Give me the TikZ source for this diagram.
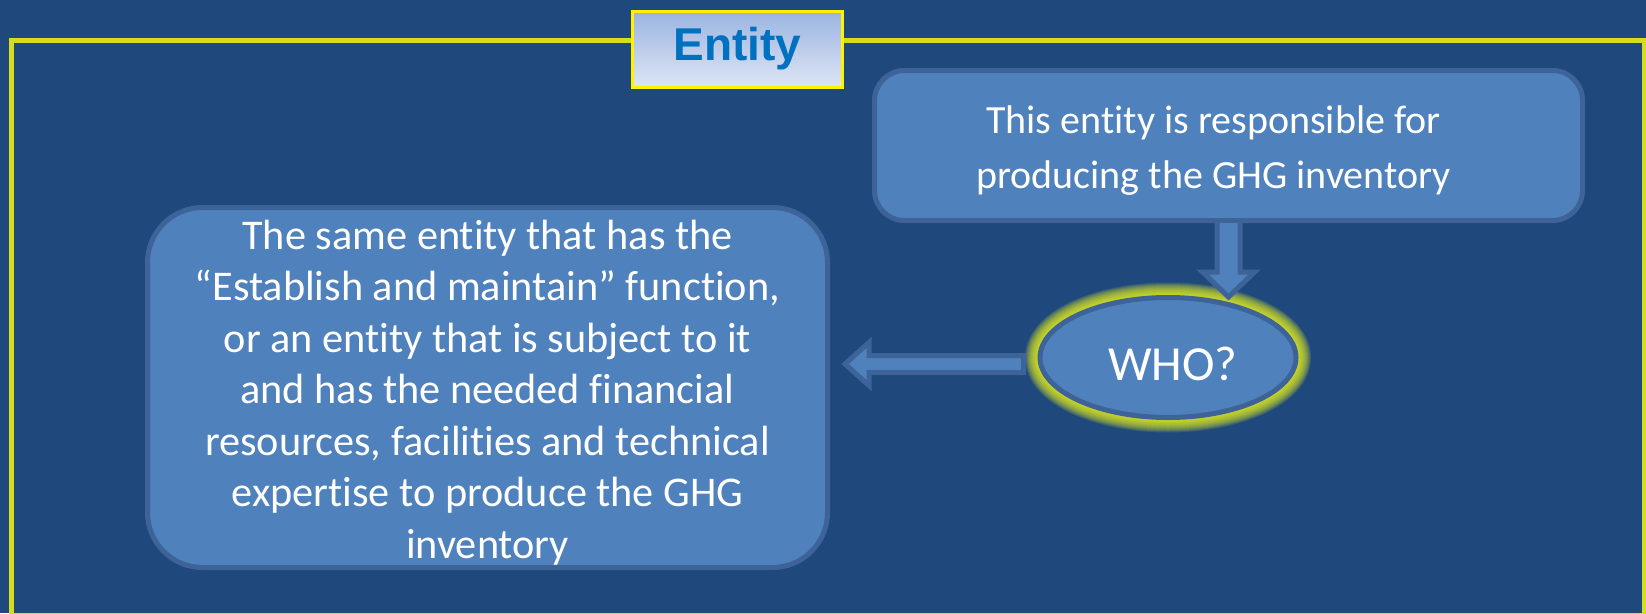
\documentclass[tikz,border=0pt]{standalone}
\usepackage{fontspec}
\setmainfont{Carlito}[Ligatures=NoCommon]
\newfontfamily\headfont{Liberation Sans}
\usepackage{xcolor}
\usetikzlibrary{calc,shapes.geometric}
\definecolor{slide}{HTML}{1F497D}
\definecolor{boxfill}{HTML}{4F81BD}
\definecolor{boxline}{HTML}{3E6398}
\definecolor{framey}{HTML}{D6DD1C}
\definecolor{glowy}{HTML}{E8F21A}
\definecolor{titletop}{HTML}{9BB4E0}
\definecolor{titlebot}{HTML}{DDE5F5}
\definecolor{titletext}{HTML}{0070C0}
\tikzset{
    every node/.style={font=\fontsize{40}{55}\selectfont, text=white},
    roundbox/.style={draw=boxline, fill=boxfill, line width=5pt, rounded corners=#1, inner sep=0pt},
    blockarrow/.style={draw=boxline, fill=boxfill, line width=5pt, line join=miter}
}

\begin{document}
\begin{tikzpicture}[x=1pt, y=-1pt]
        \fill[slide] (0,0) rectangle (1646,613);
        \useasboundingbox (0,0) rectangle (1646,613);
        \draw[framey, line width=5pt] (11.5,40.5) rectangle (1644,615.5);
        \node[draw=yellow, line width=3pt, top color=titletop, bottom color=titlebot, minimum width=210pt, minimum height=76pt, inner sep=0pt, text=titletext, font=\headfont\bfseries\fontsize{46}{50}\selectfont] (title) at (737.5,49) {Entity};

        % glow round the question
        \coordinate (whoc) at (1168,357.5);
        \foreach \w in {2,4,...,30}
            \draw[glowy, line width=\w pt, opacity=0.13] (whoc) ellipse [x radius=128, y radius=60];

        \node[roundbox=30pt, minimum width=708pt, minimum height=150pt] (producer) at (1228.5,145.5) {};
        \node[align=center] (producer-text) at ($(producer)+(-15,5)$) {This entity is responsible for\\producing the GHG inventory};
        \node[roundbox=55pt, minimum width=680pt, minimum height=360pt] (answer) at (487.5,387.5) {};
        \node[align=center, font=\fontsize{42.3}{51.5}\selectfont] (answer-text) at ($(answer)+(0,5)$) {The same entity that has the\\``Establish and maintain'' function,\\or an entity that is subject to it\\and has the needed financial\\resources, facilities and technical\\expertise to produce the GHG\\inventory};
        \node[draw=boxline, fill=boxfill, line width=5pt, ellipse, minimum width=256pt, minimum height=120pt, inner sep=0pt] (who) at (whoc) {};
        \node[font=\fontsize{49}{50}\selectfont] (who-text) at ($(who)+(5,6)$) {WHO?};

        \coordinate (prodout) at (producer.south);
        \coordinate (prodtip) at ($(who.north -| producer.south)+(0,2)$);
        \coordinate (whoin) at ($(who.west)+(-14,6.5)$);
        \coordinate (answerin) at ($(answer.east |- whoin)+(15,0)$);

        \filldraw[blockarrow] ($(prodout)+(-11.5,0)$) -- ($(prodtip)+(-11.5,-25)$) -- ($(prodtip)+(-26,-25)$) -- (prodtip) -- ($(prodtip)+(26,-25)$) -- ($(prodtip)+(11.5,-25)$) -- ($(prodout)+(11.5,0)$);
        \filldraw[blockarrow] ($(whoin)+(0,-8.5)$) -- ($(answerin)+(24,-8.5)$) -- ($(answerin)+(24,-21.5)$) -- (answerin) -- ($(answerin)+(24,21.5)$) -- ($(answerin)+(24,8.5)$) -- ($(whoin)+(0,8.5)$) -- cycle;
    \end{tikzpicture}
\end{document}
